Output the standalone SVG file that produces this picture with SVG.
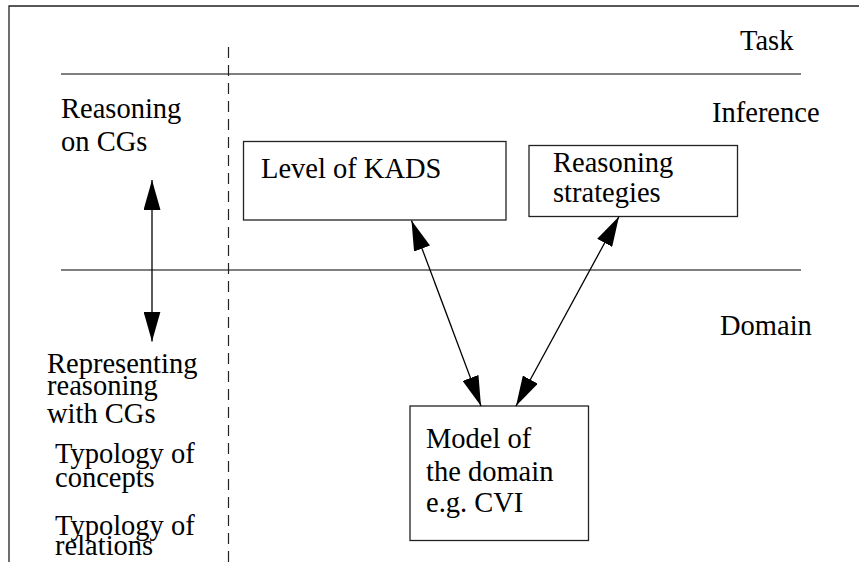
<svg xmlns="http://www.w3.org/2000/svg" width="859" height="562" viewBox="0 0 859 562">
  <style>
    text { font-family: "Liberation Serif", "Times New Roman", serif; font-size: 28.5px; fill: #000; }
    .frame { fill: none; stroke: #222; stroke-width: 1.3; }
    .level { fill: none; stroke: #555; stroke-width: 1.6; }
    .divider { fill: none; stroke: #222; stroke-width: 1.2; stroke-dasharray: 11 7; }
    .box { fill: #fff; stroke: #222; stroke-width: 1.3; }
    .link { fill: none; stroke: #000; stroke-width: 1.3; marker-start: url(#head); marker-end: url(#head); }
  </style>
  <defs>
    <!-- filled triangular arrowhead used at both ends of every link -->
    <marker id="head" markerUnits="userSpaceOnUse" markerWidth="30" markerHeight="17" refX="30" refY="8.5" orient="auto-start-reverse">
      <path d="M0,0 L30,8.5 L0,17 Z" fill="#000"/>
    </marker>
  </defs>

  <rect width="859" height="562" fill="#fff"/>

  <!-- outer frame (open at right and bottom) -->
  <path class="frame" d="M9,562 V6 H859"/>

  <!-- layer separators -->
  <g id="layers">
    <line class="level" x1="61" y1="74" x2="801" y2="74"/>
    <line class="level" x1="61" y1="270" x2="801" y2="270"/>
    <line class="divider" x1="228.5" y1="47" x2="228.5" y2="562"/>
  </g>

  <!-- layer labels -->
  <g id="label-task"><text x="740" y="50">Task</text></g>
  <g id="label-inference"><text x="712" y="122">Inference</text></g>
  <g id="label-domain"><text x="720" y="335">Domain</text></g>

  <!-- left column -->
  <g id="reasoning-on-cgs">
    <text x="61" y="118">Reasoning</text>
    <text x="61" y="151">on CGs</text>
  </g>
  <g id="representing-reasoning">
    <text x="47" y="373">Representing</text>
    <text x="47" y="395">reasoning</text>
    <text x="47" y="423">with CGs</text>
  </g>
  <g id="typology-concepts">
    <text x="55" y="463">Typology of</text>
    <text x="55" y="487">concepts</text>
  </g>
  <g id="typology-relations">
    <text x="55" y="535">Typology of</text>
    <text x="55" y="555">relations</text>
  </g>

  <!-- nodes -->
  <g id="level-of-kads">
    <rect class="box" x="243.5" y="141.5" width="262.5" height="78.5"/>
    <text x="261" y="178">Level of KADS</text>
  </g>
  <g id="reasoning-strategies">
    <rect class="box" x="529" y="145.5" width="208.5" height="71"/>
    <text x="553" y="172">Reasoning</text>
    <text x="553" y="202">strategies</text>
  </g>
  <g id="model-of-domain">
    <rect class="box" x="410" y="406" width="178.5" height="134.5"/>
    <text x="426" y="448">Model of</text>
    <text x="426" y="481">the domain</text>
    <text x="426" y="512">e.g. CVI</text>
  </g>

  <!-- connectors -->
  <g id="connectors">
    <line class="link" x1="152" y1="180" x2="152" y2="341.5"/>
    <line class="link" x1="411.5" y1="220.5" x2="481" y2="406"/>
    <line class="link" x1="619" y1="216.5" x2="516" y2="406"/>
  </g>
</svg>
